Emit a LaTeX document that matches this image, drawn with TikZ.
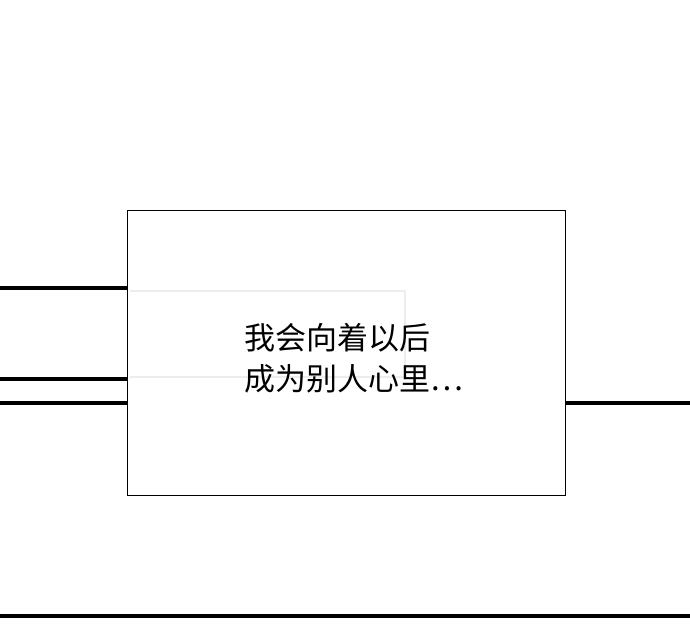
\documentclass[tikz,border=0pt]{standalone}
\usepackage{fontspec}
\newfontfamily\cjk{Noto Sans CJK SC}
\begin{document}
\begin{tikzpicture}[x=1pt,y=-1pt,thick line/.style={line width=3.5pt,black},faint/.style={draw=black!7,line width=1.5pt}]
\useasboundingbox (0,0) rectangle (690,628);
\fill[white] (0,0) rectangle (690,628);
\draw[thick line] (0,288) -- (127,288);
\draw[thick line] (0,379) -- (127,379);
\draw[thick line] (0,403) -- (127,403);
\draw[thick line] (565,403) -- (690,403);
\draw[thick line] (0,616) -- (690,616);
\draw[black,line width=1pt,fill=white] (127,211) rectangle (565,495);
\draw[faint] (130,291) -- (405,291) -- (405,380);
\draw[faint] (130,377) -- (405,377);
\node[anchor=west,align=left,font=\cjk\fontsize{31}{41}\selectfont,inner sep=0] (t) at (244,358) {我会向着以后\\成为别人心里…};
\end{tikzpicture}
\end{document}
